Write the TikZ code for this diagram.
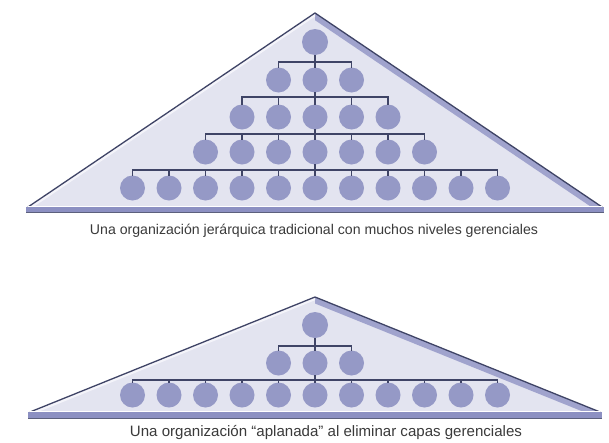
\documentclass[tikz,border=0pt]{standalone}
\usepackage{fontspec}
\setmainfont{Liberation Sans}
\definecolor{pyrfill}{HTML}{E3E4F0}
\definecolor{pyrlight}{HTML}{F4F4FA}
\definecolor{pyrband}{HTML}{A0A3CD}
\definecolor{pyredge}{HTML}{3F4466}
\definecolor{barblue}{HTML}{8C90C2}
\definecolor{circfill}{HTML}{9599C6}
\definecolor{captext}{HTML}{3A3A3A}
% one tier of the chart: parent node, prefix of child nodes, number of children, bar coordinate
\newcommand\linktier[4]{%
  \draw[link] (#1.south) -- (#1 |- #4);
  \draw[link] (#2-1 |- #4) -- (#2-#3 |- #4);
  \foreach \k in {1,...,#3} \draw[link] (#2-\k |- #4) -- (#2-\k.north);
}
\begin{document}
\begin{tikzpicture}[x=1pt,y=-1pt,
  member/.style={circle,fill=circfill,minimum size=25pt,inner sep=0pt},
  link/.style={draw=pyredge,line width=1.1pt,line cap=rect},
  caption/.style={text=captext,inner sep=0pt}]
\useasboundingbox (0,0) rectangle (609,442);
\fill[white] (0,0) rectangle (609,442);

% ---------- upper pyramid ----------
\fill[pyrfill] (315,13) -- (602,207) -- (28,207) -- cycle;
\fill[pyrband] (315,13) -- (602,207) -- (591.3,207) -- (315,20.2) -- cycle;
\fill[pyrlight] (315,13) -- (28,207) -- (33.4,207) -- (315,16.6) -- cycle;
\draw[pyredge,line width=1.3pt,line join=round] (28,207) -- (315,13) -- (602,207);
\draw[white,line width=0.8pt] (28,206.6) -- (602,206.6);
\fill[barblue] (26,207.2) rectangle (604,211.8);
\draw[pyredge!85,line width=1.2pt] (26,212.4) -- (604,212.4);

\node[member,minimum size=26pt] (t1) at (315,42) {};
\foreach \i in {1,...,3}  \node[member] (t2-\i) at ({315+(\i-2)*36.5},80) {};
\foreach \i in {1,...,5}  \node[member] (t3-\i) at ({315+(\i-3)*36.5},117) {};
\foreach \i in {1,...,7}  \node[member] (t4-\i) at ({315+(\i-4)*36.5},152) {};
\foreach \i in {1,...,11} \node[member] (t5-\i) at ({315+(\i-6)*36.5},188) {};

\coordinate (tbar2) at (315,62);
\coordinate (tbar3) at (315,97);
\coordinate (tbar4) at (315,134);
\coordinate (tbar5) at (315,170);
\linktier{t1}{t2}{3}{tbar2}
\linktier{t2-2}{t3}{5}{tbar3}
\linktier{t3-3}{t4}{7}{tbar4}
\linktier{t4-4}{t5}{11}{tbar5}

\node[caption] (cap1) at (314,231)
  {\resizebox{448pt}{!}{Una organización jerárquica tradicional con muchos niveles gerenciales}};

% ---------- lower pyramid ----------
\fill[pyrfill] (315,297) -- (600,412) -- (30,412) -- cycle;
\fill[pyrband] (315,297) -- (600,412) -- (583.9,412) -- (315,303.5) -- cycle;
\fill[pyrlight] (315,297) -- (30,412) -- (38,412) -- (315,300.2) -- cycle;
\draw[pyredge,line width=1.3pt,line join=round] (30,412) -- (315,297) -- (600,412);
\draw[white,line width=0.8pt] (30,411.6) -- (600,411.6);
\fill[barblue] (28,412.2) rectangle (602,417.6);
\draw[pyredge!85,line width=1.2pt] (28,418.2) -- (602,418.2);

\node[member,minimum size=26pt] (b1) at (315,325) {};
\foreach \i in {1,...,3}  \node[member] (b2-\i) at ({315+(\i-2)*36.5},363) {};
\foreach \i in {1,...,11} \node[member] (b3-\i) at ({315+(\i-6)*36.5},395) {};

\coordinate (bbar2) at (315,346);
\coordinate (bbar3) at (315,380);
\linktier{b1}{b2}{3}{bbar2}
\linktier{b2-2}{b3}{11}{bbar3}

\node[caption] (cap2) at (326,433)
  {\resizebox{392pt}{!}{Una organización “aplanada” al eliminar capas gerenciales}};
\end{tikzpicture}
\end{document}
